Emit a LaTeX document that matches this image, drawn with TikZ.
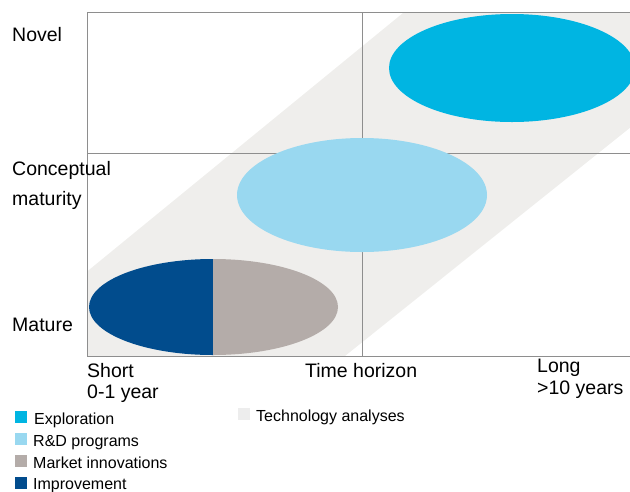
\documentclass[tikz,border=0pt]{standalone}
\usepackage{fontspec}
\setmainfont{Liberation Sans}
\definecolor{explor}{HTML}{00B5E2}
\definecolor{rnd}{HTML}{99D8F0}
\definecolor{market}{HTML}{B4ACA9}
\definecolor{improv}{HTML}{014C8D}
\definecolor{band}{HTML}{EFEEEC}
\definecolor{techsw}{HTML}{EDEDED}
\definecolor{gridc}{HTML}{8E8E8E}
\begin{document}
\begin{tikzpicture}[x=1pt,y=-1pt,
  gridline/.style={draw=gridc,line width=1pt},
  axislabel/.style={anchor=base west,inner sep=0pt,font=\fontsize{19.5}{22}\selectfont},
  legtext/.style={anchor=base west,inner sep=0pt,font=\fontsize{16}{18}\selectfont},
  swatch/.style={minimum width=12pt,minimum height=12pt,inner sep=0pt,anchor=north west}]
\useasboundingbox (0,0) rectangle (630,491);
% technology analyses band
\begin{scope}
  \clip (87,12) rectangle (630,356);
  \fill[band] (-70,400) -- (480,-50) -- (852,-50) -- (290,400) -- cycle;
\end{scope}
% grid
\draw[gridline] (630,12) -- (87,12) -- (87,356) -- (630,356);
\draw[gridline] (362,12) -- (362,356);
\draw[gridline] (87,153) -- (630,153);
% ellipses
\fill[explor] (512,68) ellipse [x radius=123, y radius=54];
\fill[rnd] (362,195) ellipse [x radius=125, y radius=57];
\fill[improv] (213,355) arc[start angle=90, end angle=270, x radius=124, y radius=48] -- cycle;
\fill[market] (213,355) arc[start angle=90, end angle=-90, x radius=125, y radius=48] -- cycle;
% axis labels
\node[axislabel] (novel) at (12,41) {Novel};
\node[axislabel] (concept) at (12,175) {Conceptual};
\node[axislabel] (matur) at (12,205) {maturity};
\node[axislabel] (mature) at (12,331) {Mature};
\node[axislabel] (short) at (87,377) {Short};
\node[axislabel] (shortyr) at (87,398) {0-1 year};
\node[axislabel] (timeh) at (305,377) {Time horizon};
\node[axislabel] (long) at (537,372) {Long};
\node[axislabel] (longyr) at (537,394) {>10 years};
% legend
\node[swatch,fill=explor] (swexp) at (15,411) {};
\node[legtext] (lexp) at (34,424) {Exploration};
\node[swatch,fill=rnd] (swrnd) at (15,433) {};
\node[legtext] (lrnd) at (33,446) {R\&D programs};
\node[swatch,fill=market] (swmkt) at (15,455) {};
\node[legtext] (lmkt) at (33,468) {Market innovations};
\node[swatch,fill=improv] (swimp) at (15,477) {};
\node[legtext] (limp) at (33,489) {Improvement};
\node[swatch,fill=techsw] (swtech) at (238,408) {};
\node[legtext] (ltech) at (256,421) {Technology analyses};
\end{tikzpicture}
\end{document}
